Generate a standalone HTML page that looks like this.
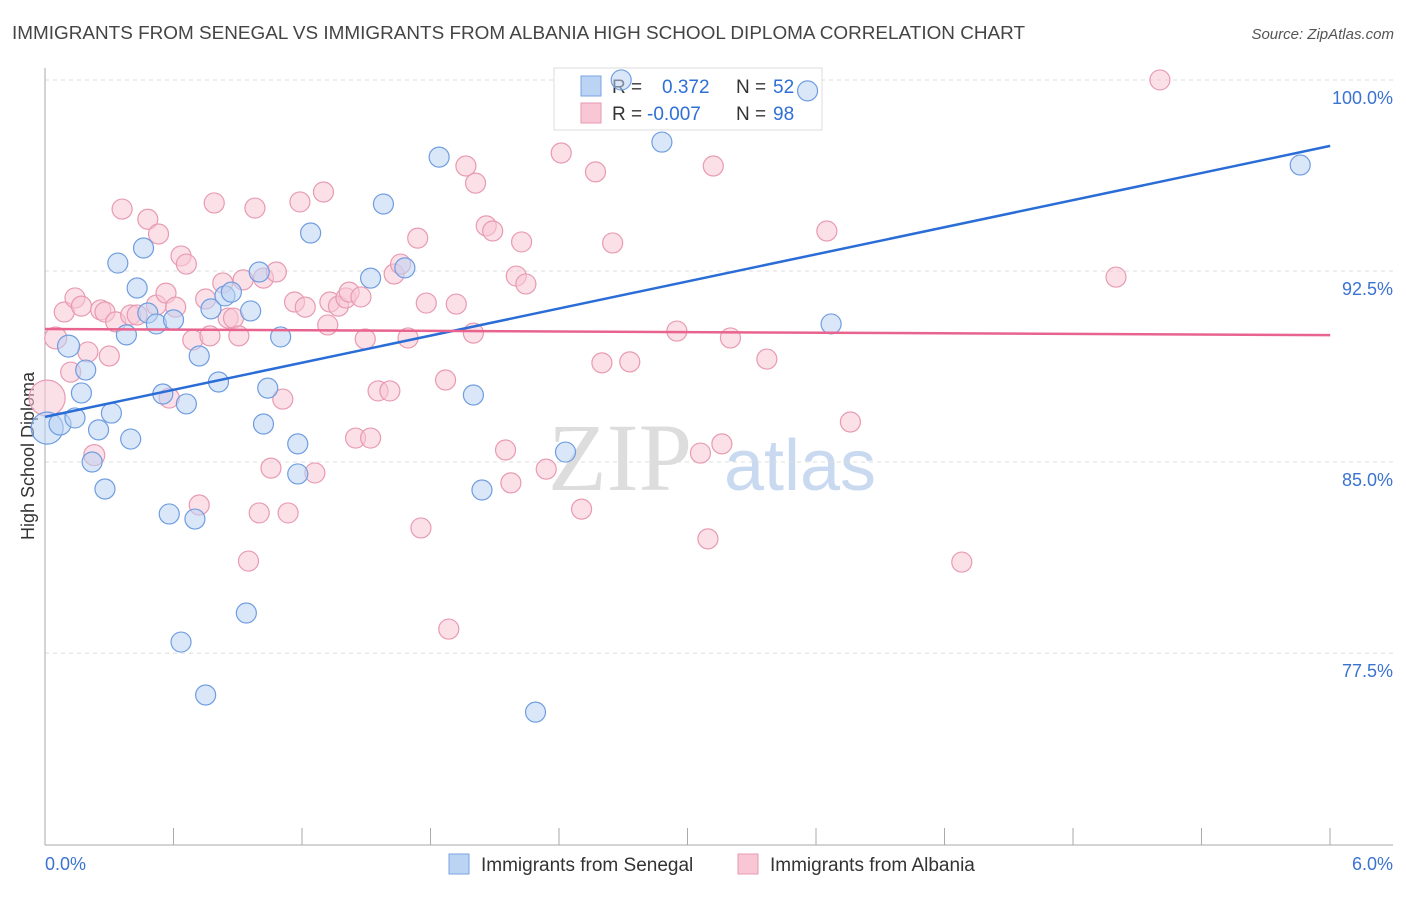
<!DOCTYPE html>
<html><head><meta charset="utf-8"><style>
body{margin:0;background:#fff;font-family:"Liberation Sans",sans-serif}
</style></head><body>
<svg id="chart" width="1406" height="892" xmlns="http://www.w3.org/2000/svg">
<text x="12" y="39" font-size="18" textLength="1013" lengthAdjust="spacingAndGlyphs" fill="#444">IMMIGRANTS FROM SENEGAL VS IMMIGRANTS FROM ALBANIA HIGH SCHOOL DIPLOMA CORRELATION CHART</text>
<text x="1394" y="39" font-size="15" fill="#555" text-anchor="end" font-style="italic">Source: ZipAtlas.com</text>
<text x="34" y="456" font-size="18" fill="#333" text-anchor="middle" transform="rotate(-90 34 456)">High School Diploma</text>
<text x="620" y="490" font-size="96" fill="#ddd" font-family="Liberation Serif,serif" text-anchor="middle">ZIP</text>
<text x="800" y="490" font-size="72" fill="#c9d9f0" text-anchor="middle">atlas</text>
<g id="grid"></g><g id="axes"></g>
<g>
<rect x="554" y="68" width="268" height="62" fill="#fff" stroke="#ddd"/>
<rect x="581" y="76" width="20" height="20" fill="#bcd4f4" stroke="#7aa3e0"/>
<text x="612" y="93" font-size="19" fill="#333">R =</text><text x="662" y="93" font-size="19" fill="#2e6fd6">0.372</text>
<text x="736" y="93" font-size="19" fill="#333">N =</text><text x="773" y="93" font-size="19" fill="#2e6fd6">52</text>
<rect x="581" y="103" width="20" height="20" fill="#f8c6d5" stroke="#e89ab2"/>
<text x="612" y="120" font-size="19" fill="#333">R =</text><text x="647" y="120" font-size="19" fill="#2e6fd6">-0.007</text>
<text x="736" y="120" font-size="19" fill="#333">N =</text><text x="773" y="120" font-size="19" fill="#2e6fd6">98</text>
</g>
<g id="pts"></g><g id="lines"></g>
<g>
<rect x="449" y="854" width="20" height="20" fill="#bcd4f4" stroke="#7aa3e0"/>
<text x="481" y="871" font-size="19" fill="#333">Immigrants from Senegal</text>
<rect x="738" y="854" width="20" height="20" fill="#f8c6d5" stroke="#e89ab2"/>
<text x="770" y="871" font-size="19" fill="#333">Immigrants from Albania</text>
</g>
</svg>
<script>
const yTicks=[100,92.5,85,77.5];
const yTickLabels=["100.0%","92.5%","85.0%","77.5%"];
const xTickLabels=["0.0%","6.0%"];
const blueX=[0.01,0.07,0.11,0.19,0.14,0.17,0.22,0.25,0.28,0.31,0.34,0.38,0.40,0.43,0.46,0.48,0.52,0.55,0.58,0.60,0.635,0.66,0.70,0.72,0.75,0.775,0.81,0.84,0.87,0.94,0.96,1.0,1.02,1.04,1.10,1.18,1.18,1.24,1.52,1.58,1.68,1.84,2.0,2.04,2.29,2.43,2.69,2.88,3.56,3.67,5.86];
const blueY=[87.0,87.16,90.22,89.28,87.4,88.38,85.67,86.93,84.61,87.59,93.48,90.66,86.57,92.5,94.07,91.52,91.09,88.34,83.63,91.25,78.6,87.95,83.43,89.83,76.52,91.68,88.81,92.19,92.34,79.74,91.6,93.13,87.16,88.57,90.58,86.38,85.2,94.66,92.89,95.8,93.29,97.64,88.3,84.57,75.85,86.06,100.67,98.23,100.24,91.09,97.33];
const blueW=[1.6,1.1,1.1,1,1,1,1,1,1,1,1,1,1,1,1,1,1,1,1,1,1,1,1,1,1,1,1,1,1,1,1,1,1,1,1,1,1,1,1,1,1,1,1,1,1,1,1,1,1,1,1];
const pinkX=[0.01,0.05,0.09,0.12,0.14,0.17,0.2,0.23,0.26,0.28,0.30,0.33,0.36,0.40,0.43,0.48,0.52,0.53,0.565,0.58,0.61,0.635,0.66,0.69,0.72,0.75,0.77,0.79,0.83,0.855,0.88,0.905,0.925,0.95,0.98,1.0,1.02,1.055,1.08,1.11,1.135,1.165,1.19,1.215,1.26,1.30,1.32,1.33,1.37,1.405,1.42,1.45,1.475,1.495,1.52,1.555,1.61,1.63,1.66,1.695,1.74,1.755,1.78,1.87,1.885,1.92,1.965,2.0,2.01,2.06,2.09,2.15,2.175,2.20,2.225,2.245,2.34,2.41,2.505,2.57,2.60,2.65,2.73,2.95,3.06,3.095,3.12,3.16,3.20,3.37,3.65,3.76,4.28,5.0,5.205];
const pinkY=[88.18,90.54,91.56,89.2,92.11,91.79,89.99,85.94,91.64,91.56,89.83,91.17,95.6,91.44,91.44,95.2,91.83,94.62,92.3,88.18,91.75,93.76,93.44,90.46,83.98,92.07,90.62,95.84,92.7,91.32,91.32,90.62,92.82,81.78,95.64,83.67,92.89,85.43,93.13,88.14,83.67,91.95,95.88,91.75,85.24,96.27,91.05,91.95,91.79,92.11,92.34,86.61,92.15,90.5,86.61,88.46,88.46,93.05,93.44,90.54,94.46,83.08,91.91,88.89,79.11,91.87,97.29,90.73,96.62,94.94,94.74,86.14,84.85,92.97,94.31,92.66,85.39,97.8,83.82,97.06,89.56,94.27,89.6,90.81,86.02,82.65,97.29,86.38,90.54,89.71,94.74,87.24,81.74,92.93,100.67];
const pinkW=[1.8,1.1,1,1,1,1,1,1.05];
const blueTrend=[87.44,98.08];
const pinkTrend=[90.89,90.65];
const NS="http://www.w3.org/2000/svg";
const xS=v=>45+v*214.2, yS=v=>97+(100-v)*25.47;
function mk(t,a,p){const e=document.createElementNS(NS,t);for(const k in a)e.setAttribute(k,a[k]);p.appendChild(e);return e;}
const grid=document.getElementById('grid'),axes=document.getElementById('axes'),pts=document.getElementById('pts'),lines=document.getElementById('lines');
yTicks.forEach((t,i)=>{
 const l=mk('line',{x1:45,x2:1393,y1:yS(t)-17,y2:yS(t)-17,stroke:'#ddd','stroke-dasharray':'4,4'},grid);
 
 
 const tx=mk('text',{x:1393,y:yS(t)+7,'font-size':18,fill:'#3b73d1','text-anchor':'end'},grid);
 tx.textContent=yTickLabels[i];
 
 
});
const ya=mk('line',{x1:45,x2:45,y1:68,y2:845,stroke:'#aaa'},axes);


const xa=mk('line',{x1:45,x2:1393,y1:845,y2:845,stroke:'#aaa'},axes);


for(let i=0;i<=10;i++){const x=45+i*128.5;const t=mk('line',{x1:x,x2:x,y1:828,y2:845,stroke:'#aaa'},axes);
 
 }
xTickLabels.forEach((s,i)=>{const t=mk('text',{x:i?1393:45,y:870,'font-size':18,fill:'#3b73d1','text-anchor':i?'end':'start'},axes);t.textContent=s;
 
 });
function dots(X,Y,W,fill,stroke,name){X.forEach((x,i)=>{const c=mk('circle',{cx:xS(x),cy:yS(Y[i]),r:10*(W[i]||1),fill:fill,'fill-opacity':0.55,stroke:stroke,'stroke-width':1.2},pts);
 
 });}
dots(pinkX,pinkY,pinkW,'#f8c6d5','#e89ab2','albania-point');
dots(blueX,blueY,blueW,'#bcd4f4','#6f9de0','senegal-point');
const bl=mk('line',{x1:xS(0),x2:xS(6),y1:yS(blueTrend[0]),y2:yS(blueTrend[1]),stroke:'#2a6dd6','stroke-width':2.5},lines);


const pl=mk('line',{x1:xS(0),x2:xS(6),y1:yS(pinkTrend[0]),y2:yS(pinkTrend[1]),stroke:'#e8648f','stroke-width':2.5},lines);


</script>
</body></html>
